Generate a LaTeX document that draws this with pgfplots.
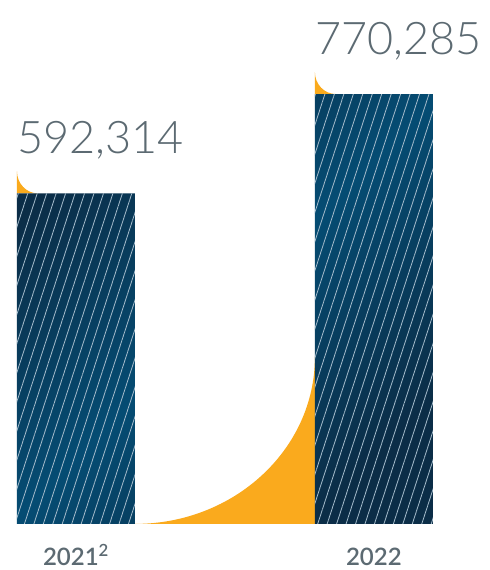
\documentclass[border=0pt]{standalone}
\usepackage{pgfplots}
\pgfplotsset{compat=1.18}
\usetikzlibrary{patterns.meta}
\usepackage{fontspec}
\setmainfont{Lato}
\newfontfamily\lightfont{Lato Light}
\newfontfamily\midfont{Lato Semibold}

\definecolor{bardark}{RGB}{11,45,71}
\definecolor{barlight}{RGB}{5,76,115}
\definecolor{stripe}{RGB}{165,188,204}
\definecolor{accent}{RGB}{250,170,29}
\definecolor{txt}{RGB}{92,106,114}

\begin{document}
\begin{tikzpicture}
\begin{axis}[
    scale only axis,
    width=490pt, height=570pt,
    xmin=-0.25503, xmax=1.38926,
    ymin=-82405, ymax=938671,
    ybar, bar width=118pt, bar shift=0pt,
    axis line style={draw=none},
    major tick length=0pt,
    ytick=\empty,
    xtick={0,1},
    xticklabels={2021\textsuperscript{2},2022},
    xticklabel style={anchor=base, inner sep=0pt, yshift=4pt,
        font=\midfont\fontsize{24}{24}\selectfont, text=txt},
    every node near coord/.append style={anchor=base west, inner sep=0pt,
        xshift=-59pt, yshift=40pt, text=txt,
        font=\lightfont\fontsize{45}{45}\selectfont,
        /pgf/number format/assume math mode=true,
        /pgf/number format/fixed,
        /pgf/number format/precision=0,
        /pgf/number format/1000 sep={,}},
    clip=false,
]
% orange accents
\fill[accent] (axis cs:0.19799,0) -- (axis cs:0.80201,0)
    -- (axis cs:0.80201,299155)
    arc[start angle=0, end angle=-90, x radius=180pt, y radius=167pt] -- cycle;
\fill[accent] (axis cs:-0.19799,592314) -- ++(0pt,22pt)
    arc[start angle=180, end angle=270, x radius=21pt, y radius=22pt] -- cycle;
\fill[accent] (axis cs:0.80201,770285) -- ++(0pt,22pt)
    arc[start angle=180, end angle=270, x radius=21pt, y radius=22pt] -- cycle;

% bars: shaded body
\addplot[draw=none, top color=bardark, bottom color=bardark,
    middle color=barlight, shading angle=45, nodes near coords]
    coordinates {(0,592314) (1,770285)};
% bars: white stripes on top
\addplot[draw=none, fill=none,
    pattern={Lines[angle=72,distance=9pt,line width=0.8pt]},
    pattern color=stripe]
    coordinates {(0,592314) (1,770285)};
\end{axis}
\end{tikzpicture}
\end{document}
